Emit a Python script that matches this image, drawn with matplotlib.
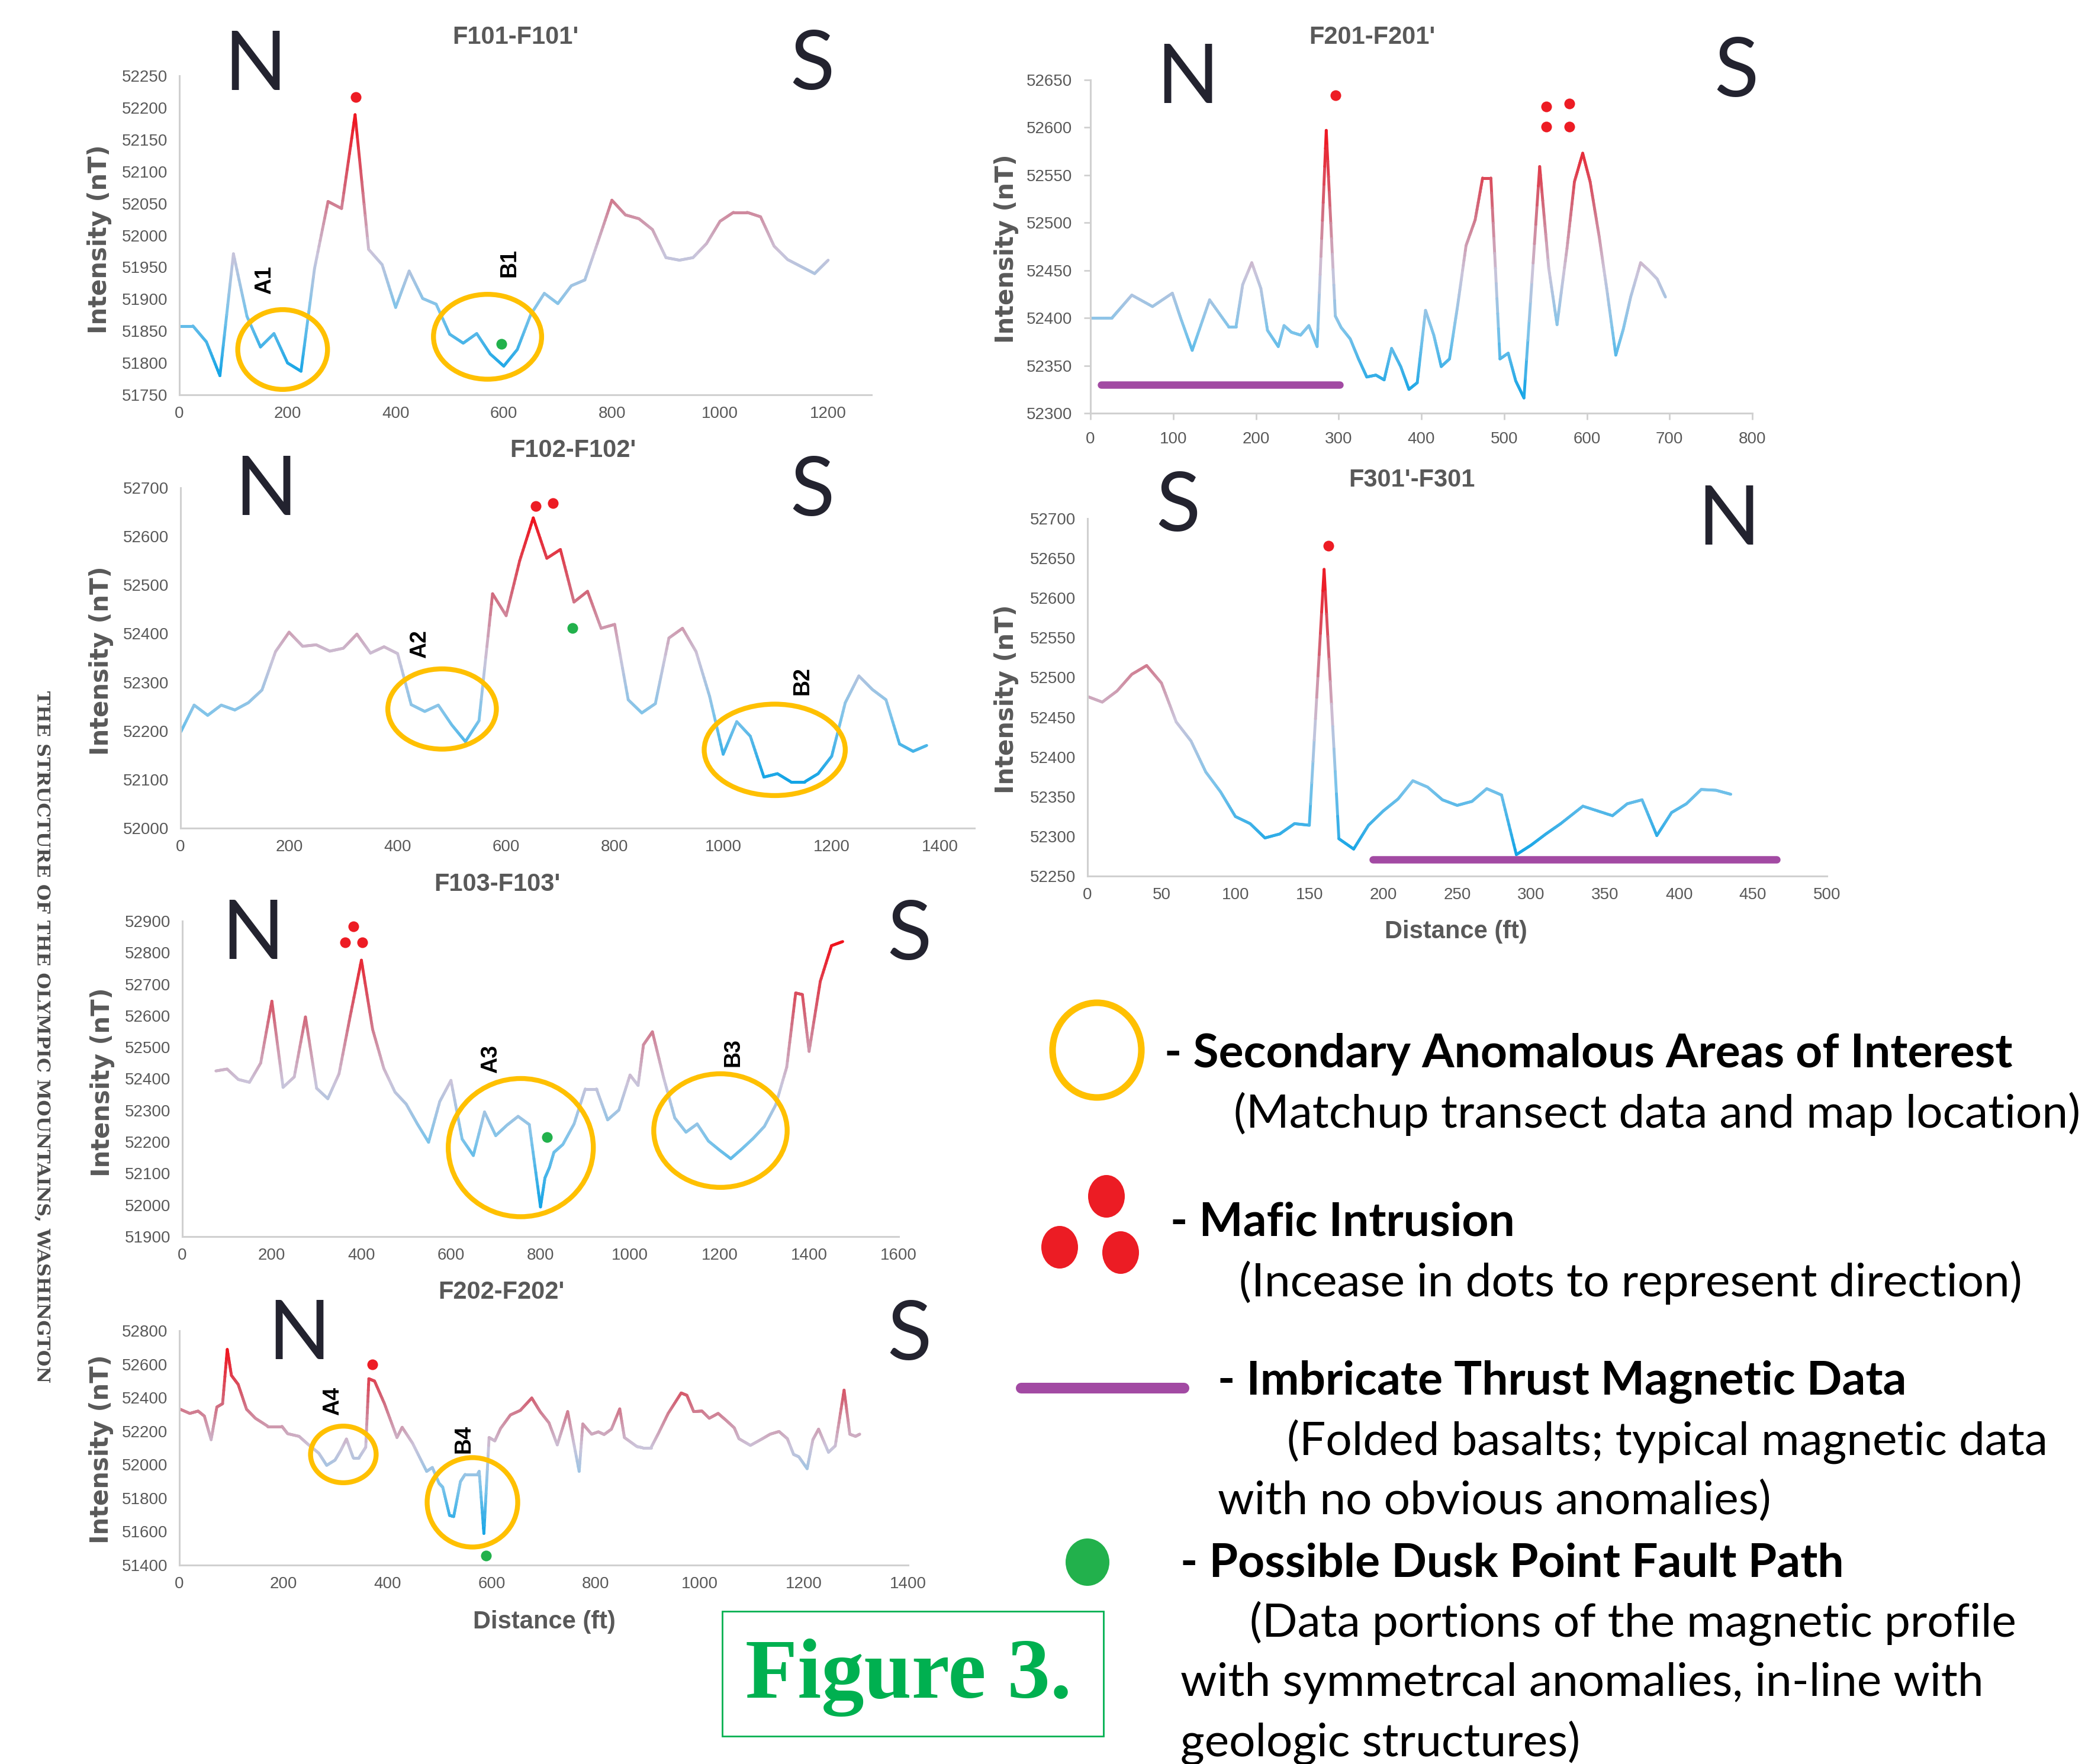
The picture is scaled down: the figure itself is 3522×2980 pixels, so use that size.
import numpy as np
import matplotlib
matplotlib.use("Agg")
import matplotlib.pyplot as plt
from matplotlib import font_manager
from matplotlib.collections import LineCollection
from matplotlib.colors import LinearSegmentedColormap
from matplotlib.patches import Ellipse, Rectangle, PathPatch
from matplotlib.textpath import TextPath
from matplotlib.font_manager import FontProperties
from matplotlib.transforms import Affine2D

# --------------------------------------------------
# 1. Data (distance ft, intensity nT)
# --------------------------------------------------

f101_x = [0, 25, 50, 75, 100, 125, 150, 175, 200, 225, 250, 275, 300, 325, 350, 375,
          400, 425, 450, 475, 500, 525, 550, 575, 600, 625, 650, 675, 700, 725, 750,
          775, 800, 825, 850, 875, 900, 925, 950, 975, 1000, 1025, 1050, 1075, 1100,
          1125, 1150, 1175, 1200]
f101_y = [51858, 51858, 51833, 51780, 51971, 51873, 51825, 51846, 51800, 51787, 51948,
          52053, 52042, 52189, 51978, 51954, 51887, 51944, 51901, 51892, 51845, 51831,
          51846, 51814, 51795, 51821, 51876, 51909, 51893, 51921, 51930, 51992, 52055,
          52032, 52026, 52009, 51965, 51961, 51965, 51987, 52022, 52036, 52036, 52029,
          51983, 51962, 51951, 51940, 51961]

f201_x = [0, 26, 35, 50, 75, 99, 109, 123, 144, 167, 176, 184, 195, 206, 214, 227, 234,
          243, 254, 264, 274, 285, 296, 303, 314, 324, 334, 345, 355, 364, 375, 385, 395,
          405, 415, 424, 434, 444, 454, 465, 474, 484, 495, 505, 514, 524, 543, 554, 564,
          576, 585, 595, 604, 615, 624, 635, 644, 653, 665, 675, 685, 695]
f201_y = [52400, 52400, 52409, 52424, 52412, 52426, 52400, 52366, 52419, 52391, 52391,
          52435, 52458, 52431, 52387, 52370, 52392, 52385, 52382, 52392, 52370, 52597,
          52402, 52390, 52378, 52357, 52338, 52340, 52335, 52368, 52349, 52325, 52332,
          52408, 52382, 52349, 52357, 52414, 52476, 52503, 52547, 52547, 52357, 52363,
          52334, 52316, 52559, 52452, 52393, 52473, 52543, 52573, 52543, 52485, 52431,
          52361, 52388, 52422, 52458, 52450, 52441, 52422]

f102_x = [0, 25, 50, 75, 100, 125, 150, 175, 200, 225, 250, 275, 300, 325, 350, 375,
          400, 425, 450, 475, 500, 525, 550, 575, 600, 625, 650, 675, 700, 725, 750, 775,
          800, 825, 850, 875, 900, 925, 950, 975, 1000, 1025, 1050, 1075, 1100, 1125,
          1150, 1175, 1200, 1225, 1250, 1275, 1300, 1325, 1350, 1375]
f102_y = [52197, 52253, 52232, 52253, 52243, 52258, 52284, 52363, 52403, 52374, 52377,
          52364, 52370, 52399, 52360, 52373, 52359, 52254, 52240, 52253, 52212, 52178,
          52221, 52482, 52437, 52550, 52638, 52555, 52573, 52465, 52487, 52411, 52419,
          52264, 52237, 52256, 52391, 52411, 52363, 52271, 52152, 52219, 52189, 52105,
          52112, 52095, 52095, 52112, 52148, 52258, 52313, 52285, 52264, 52173, 52158,
          52170]

f301_x = [0, 10, 20, 30, 40, 50, 60, 70, 80, 90, 100, 110, 120, 130, 140, 150, 160, 170,
          180, 190, 200, 210, 220, 230, 240, 250, 260, 270, 280, 290, 300, 310, 320, 335,
          355, 365, 375, 385, 395, 405, 415, 425, 435]
f301_y = [52476, 52469, 52483, 52504, 52515, 52493, 52444, 52420, 52381, 52356, 52325,
          52316, 52298, 52303, 52316, 52314, 52636, 52297, 52284, 52314, 52332, 52347,
          52370, 52362, 52346, 52339, 52344, 52360, 52352, 52277, 52289, 52303, 52316,
          52338, 52326, 52341, 52346, 52301, 52330, 52341, 52359, 52358, 52353]

f103_x = [75, 100, 125, 150, 175, 200, 225, 250, 275, 300, 325, 350, 375, 400, 425, 450,
          475, 500, 525, 550, 575, 600, 625, 650, 675, 700, 725, 750, 775, 800, 810, 820,
          830, 850, 875, 900, 925, 950, 975, 1000, 1018, 1030, 1050, 1075, 1100, 1125,
          1150, 1175, 1200, 1225, 1250, 1275, 1300, 1325, 1350, 1370, 1385, 1400, 1425,
          1450, 1475]
f103_y = [52425, 52431, 52398, 52389, 52450, 52646, 52373, 52406, 52596, 52370, 52337,
          52416, 52599, 52776, 52557, 52433, 52358, 52320, 52257, 52199, 52328, 52395,
          52209, 52157, 52295, 52220, 52253, 52281, 52255, 51994, 52086, 52119, 52167,
          52192, 52257, 52368, 52368, 52270, 52301, 52412, 52379, 52508, 52549, 52404,
          52276, 52231, 52257, 52203, 52174, 52147, 52178, 52211, 52249, 52316, 52437,
          52672, 52667, 52487, 52709, 52822, 52835]

f202_x = [0, 20, 36, 48, 61, 72, 83, 92, 100, 113, 129, 146, 170, 197, 208, 230, 247,
          268, 283, 299, 310, 321, 334, 345, 358, 364, 375, 394, 418, 428, 448, 475, 486,
          499, 506, 519, 527, 540, 549, 573, 576, 585, 595, 606, 617, 636, 655, 677, 693,
          710, 726, 746, 768, 775, 792, 805, 816, 830, 846, 855, 879, 890, 906, 920, 939,
          964, 975, 988, 1004, 1018, 1035, 1051, 1066, 1075, 1097, 1119, 1135, 1152, 1168,
          1180, 1190, 1206, 1217, 1228, 1247, 1260, 1277, 1288, 1299, 1307]
f202_y = [52333, 52306, 52320, 52290, 52149, 52344, 52364, 52688, 52533, 52479, 52331,
          52277, 52229, 52229, 52185, 52169, 52122, 52068, 51996, 52027, 52085, 52153,
          52041, 52041, 52104, 52513, 52499, 52364, 52162, 52223, 52128, 51960, 51983,
          51888, 51865, 51697, 51690, 51899, 51942, 51942, 51960, 51589, 52162, 52142,
          52216, 52297, 52324, 52398, 52317, 52250, 52118, 52317, 51960, 52243, 52182,
          52196, 52180, 52212, 52333, 52162, 52108, 52101, 52101, 52185, 52306, 52428,
          52414, 52317, 52320, 52277, 52306, 52263, 52220, 52155, 52115, 52153, 52182,
          52198, 52155, 52061, 52047, 51976, 52149, 52212, 52074, 52112, 52445, 52182,
          52169, 52182]

# axis ticks
f101_xticks = [0, 200, 400, 600, 800, 1000, 1200]
f101_yticks = [51750, 51800, 51850, 51900, 51950, 52000, 52050, 52100, 52150, 52200, 52250]
f201_xticks = [0, 100, 200, 300, 400, 500, 600, 700, 800]
f201_yticks = [52300, 52350, 52400, 52450, 52500, 52550, 52600, 52650]
f102_xticks = [0, 200, 400, 600, 800, 1000, 1200, 1400]
f102_yticks = [52000, 52100, 52200, 52300, 52400, 52500, 52600, 52700]
f301_xticks = [0, 50, 100, 150, 200, 250, 300, 350, 400, 450, 500]
f301_yticks = [52250, 52300, 52350, 52400, 52450, 52500, 52550, 52600, 52650, 52700]
f103_xticks = [0, 200, 400, 600, 800, 1000, 1200, 1400, 1600]
f103_yticks = [51900, 52000, 52100, 52200, 52300, 52400, 52500, 52600, 52700, 52800, 52900]
f202_xticks = [0, 200, 400, 600, 800, 1000, 1200, 1400]
f202_yticks = [51400, 51600, 51800, 52000, 52200, 52400, 52600, 52800]

# interpretation marks (x ft, y nT)
f101_red = [(326, 52217)]
f101_green = [(596, 51830)]
f101_circles = [("A1", 191, 51821, 166, 125, 158, 51930), ("B1", 570, 51841, 200, 133, 610, 51957)]

f201_red = [(296, 52634), (551, 52622), (579, 52625), (551, 52601), (579, 52601)]
f201_purple = (13, 301, 52330)

f102_red = [(655, 52662), (686, 52668)]
f102_green = [(722, 52412)]
f102_circles = [("A2", 482, 52245, 200, 165, 441, 52379), ("B2", 1095, 52161, 260, 188, 1146, 52303)]

f301_red = [(163, 52666)]
f301_purple = (193, 466, 52271)

f103_red = [(382, 52883), (364, 52833), (402, 52833)]
f103_green = [(815, 52215)]
f103_circles = [("A3", 756, 52182, 324, 438, 689, 52462), ("B3", 1202, 52236, 298, 360, 1230, 52483)]

f202_red = [(371, 52600)]
f202_green = [(589, 51457)]
f202_circles = [("A4", 315, 52061, 126, 338, 295, 52378), ("B4", 563, 51775, 174, 534, 546, 52155)]

# --------------------------------------------------
# 2. Styles
# --------------------------------------------------

W, H = 3522, 2980
names = {f.name for f in font_manager.fontManager.ttflist}
narrow = "Liberation Sans Narrow" if "Liberation Sans Narrow" in names else "Liberation Sans"

grey = "#595959"
yellow = "#FFC000"
red = "#ED1C24"
green = "#22B14C"
purple = "#A24AA3"
cmap = LinearSegmentedColormap.from_list(
    "magline", [(0.0, "#12A4E6"), (0.25, "#7EC4EA"), (0.47, "#CBC4DA"),
                (0.72, "#D2677A"), (1.0, "#F0121C")])

fig = plt.figure(figsize=(W / 100, H / 100), dpi=100)
fig.patch.set_facecolor("white")


def make_axes(left, top, right, bottom, xlim, xticks, yticks, tickmarks=False):
    ax = fig.add_axes([left / W, 1 - bottom / H, (right - left) / W, (bottom - top) / H])
    ax.set_facecolor("none")
    ax.set_xlim(xlim)
    ax.set_ylim(yticks[0], yticks[-1])
    ax.set_xticks(xticks)
    ax.set_yticks(yticks)
    ax.set_xticklabels([str(t) for t in xticks], fontsize=20, color=grey, family=narrow)
    ax.set_yticklabels([str(t) for t in yticks], fontsize=20, color=grey, family=narrow)
    for s in ["top", "right"]:
        ax.spines[s].set_visible(False)
    for s in ["left", "bottom"]:
        ax.spines[s].set_color("#D0D0D0")
        ax.spines[s].set_linewidth(2.2)
    ax.tick_params(length=8 if tickmarks else 0, width=2, color="#D0D0D0", pad=14)
    return ax


def gradient_line(ax, x, y, lw=3.5):
    x = np.asarray(x, float)
    y = np.asarray(y, float)
    norm = plt.Normalize(y.min(), y.max())
    segs, vals = [], []
    t = np.linspace(0, 1, 13)
    for i in range(len(x) - 1):
        xs = x[i] + (x[i + 1] - x[i]) * t
        ys = y[i] + (y[i + 1] - y[i]) * t
        for j in range(len(t) - 1):
            segs.append([(xs[j], ys[j]), (xs[j + 1], ys[j + 1])])
            vals.append((ys[j] + ys[j + 1]) / 2)
    lc = LineCollection(segs, cmap=cmap, norm=norm, linewidths=lw, capstyle="round")
    lc.set_array(np.array(vals))
    ax.add_collection(lc)


def marks(ax, reds=(), greens=(), circles=(), purple_bar=None):
    for px, py in reds:
        ax.plot(px, py, "o", color=red, ms=13, mec="none", clip_on=False, zorder=5)
    for px, py in greens:
        ax.plot(px, py, "o", color=green, ms=13, mec="none", clip_on=False, zorder=5)
    for lab, cx, cy, w, h, lx, ly in circles:
        ax.add_patch(Ellipse((cx, cy), w, h, fill=False, ec=yellow, lw=6, clip_on=False, zorder=4))
        ax.text(lx, ly, lab, rotation=90, ha="center", va="center", fontsize=27,
                fontweight="bold", family="Liberation Sans", color="black", zorder=6)
    if purple_bar is not None:
        x0, x1, py = purple_bar
        ax.plot([x0, x1], [py, py], color=purple, lw=9, solid_capstyle="round", zorder=4)


# --------------------------------------------------
# 3. Panels
# --------------------------------------------------

ax1 = make_axes(303, 128, 1472, 667, (0, 1280), f101_xticks, f101_yticks)
gradient_line(ax1, f101_x, f101_y)
marks(ax1, f101_red, f101_green, f101_circles)

ax2 = make_axes(1842, 135, 2960, 698, (0, 800), f201_xticks, f201_yticks, tickmarks=True)
gradient_line(ax2, f201_x, f201_y)
marks(ax2, f201_red, purple_bar=f201_purple)

ax3 = make_axes(305, 824, 1646, 1399, (0, 1463), f102_xticks, f102_yticks)
gradient_line(ax3, f102_x, f102_y)
marks(ax3, f102_red, f102_green, f102_circles)

ax4 = make_axes(1837, 876, 3086, 1480, (0, 500), f301_xticks, f301_yticks)
gradient_line(ax4, f301_x, f301_y)
marks(ax4, f301_red, purple_bar=f301_purple)

ax5 = make_axes(308, 1556, 1518, 2089, (0, 1600), f103_xticks, f103_yticks)
gradient_line(ax5, f103_x, f103_y)
marks(ax5, f103_red, f103_green, f103_circles)

ax6 = make_axes(303, 2248, 1534, 2644, (0, 1400), f202_xticks, f202_yticks)
gradient_line(ax6, f202_x, f202_y)
marks(ax6, f202_red, f202_green, f202_circles)

# --------------------------------------------------
# 4. Free text and legend (overlay in pixel coords)
# --------------------------------------------------

ov = fig.add_axes([0, 0, 1, 1])
ov.set_xlim(0, W)
ov.set_ylim(H, 0)
ov.axis("off")
ov.set_zorder(-1)

titles = [("F101-F101'", 871, 63), ("F201-F201'", 2318, 63), ("F102-F102'", 968, 761),
          ("F301'-F301", 2385, 811), ("F103-F103'", 840, 1494), ("F202-F202'", 847, 2183)]
for txt, tx, ty in titles:
    ov.text(tx, ty, txt, ha="center", va="center", fontsize=30, fontweight="bold",
            family=narrow, color=grey)

compass = [("N", 431, 112), ("S", 1372, 112), ("N", 2006, 135), ("S", 2933, 124),
           ("N", 449, 831), ("S", 1372, 831), ("S", 1990, 858), ("N", 2920, 880),
           ("N", 427, 1581), ("S", 1536, 1581), ("N", 505, 2257), ("S", 1536, 2257)]
for txt, tx, ty in compass:
    ov.text(tx, ty, txt, ha="center", va="center", fontsize=100, family="Lato",
            color="#23232F")

for ty, tx in [(404, 168), (420, 1700), (1116, 171), (1181, 1700), (1828, 173), (2448, 171)]:
    ov.text(tx, ty, "Intensity (nT)", rotation=90, ha="center", va="center", fontsize=30,
            fontweight="bold", family="DejaVu Sans", color=grey)

for tx, ty in [(2459, 1574), (919, 2740)]:
    ov.text(tx, ty, "Distance (ft)", ha="center", va="center", fontsize=30,
            fontweight="bold", family=narrow, color=grey)

# legend symbols
ov.add_patch(Ellipse((1853, 1774), 150, 160, fill=False, ec=yellow, lw=8))
for cx, cy in [(1869, 2021), (1790, 2107), (1893, 2116)]:
    ov.add_patch(Ellipse((cx, cy), 62, 72, color="#EC1C24", lw=0))
ov.plot([1725, 2000], [2345, 2345], color=purple, lw=13, solid_capstyle="round")
ov.add_patch(Ellipse((1837, 2639), 74, 80, color=green, lw=0))

legend_lines = [
    ("- Secondary Anomalous Areas of Interest", 1967, 1781, "bold"),
    ("(Matchup transect data and map location)", 2084, 1882, "normal"),
    ("- Mafic Intrusion", 1977, 2066, "bold"),
    ("(Incease in dots to represent direction)", 2093, 2167, "normal"),
    ("- Imbricate Thrust Magnetic Data", 2057, 2334, "bold"),
    ("(Folded basalts; typical magnetic data", 2174, 2435, "normal"),
    ("with no obvious anomalies)", 2057, 2536, "normal"),
    ("- Possible Dusk Point Fault Path", 1994, 2641, "bold"),
    ("(Data portions of the magnetic profile", 2111, 2742, "normal"),
    ("with symmetrcal anomalies, in-line with", 1994, 2843, "normal"),
    ("geologic structures)", 1994, 2944, "normal"),
]
for txt, tx, ty, wt in legend_lines:
    ov.text(tx, ty, txt, ha="left", va="center", fontsize=56.5, fontweight=wt,
            family="Lato", color="black")

# figure label
ov.add_patch(Rectangle((1220, 2722), 644, 211, fill=False, ec="#00B050", lw=2))
ov.text(1535, 2834, "Figure 3.", ha="center", va="center", fontsize=104, fontweight="bold",
        family="Liberation Serif", color="#00B050")

# book spine text in the left margin: condensed bold serif, reading top to bottom
spine = TextPath((0, 0), "THE STRUCTURE OF THE OLYMPIC MOUNTAINS, WASHINGTON", size=50,
                 prop=FontProperties(family="DejaVu Serif", weight="bold"))
ext = spine.get_extents()
length, thick = 1168, 27
sx = length / ext.width
sy = thick / ext.height
x0 = 72 - sy * (ext.y0 + ext.height / 2)
y0 = 1752 - length / 2 - sx * ext.x0
rot = Affine2D(np.array([[0.0, sy, x0], [sx, 0.0, y0], [0.0, 0.0, 1.0]]))
ov.add_patch(PathPatch(rot.transform_path(spine), fc="#4E4E4E", ec="none"))

fig.savefig("out.png", dpi=100, facecolor="white")
